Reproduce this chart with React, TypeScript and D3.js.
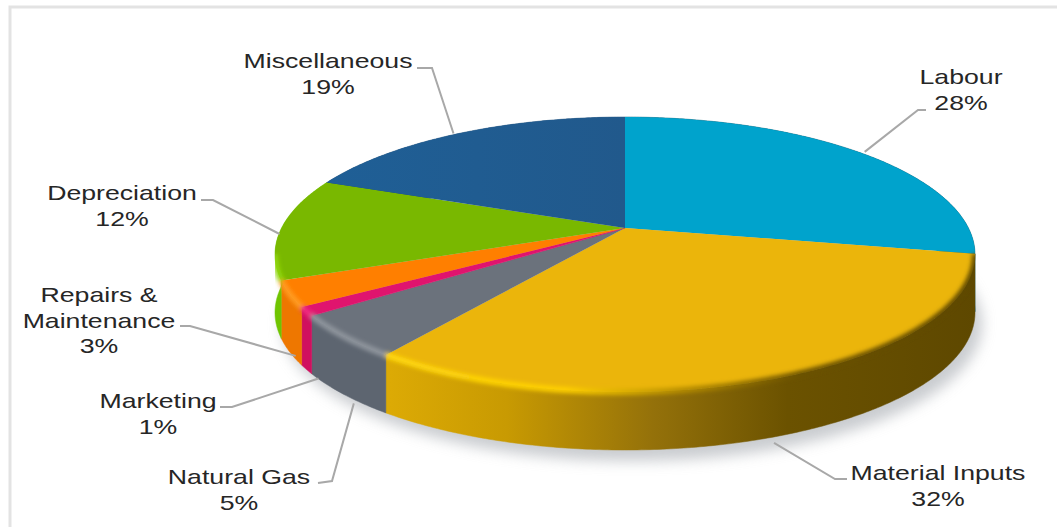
import React from "react";
import * as d3 from "d3";

// Cost shares, clockwise from twelve o'clock
const categories = ["Labour", "Material Inputs", "Natural Gas", "Marketing", "Repairs & Maintenance", "Depreciation", "Miscellaneous"];
const shares = [28, 32, 5, 1, 3, 12, 19];
const labelLines = [["Labour", "28%"], ["Material Inputs", "32%"], ["Natural Gas", "5%"], ["Marketing", "1%"], ["Repairs &", "Maintenance", "3%"], ["Depreciation", "12%"], ["Miscellaneous", "19%"]];

const topColors = ["#00a3cc", "#ebb50b", "#6b727c", "#e0146e", "#ff7f00", "#79b800", "#1f5a90"];
const sideColors = ["#00617a", "url(#goldSide)", "#5d6570", "#d0105f", "#ee7700", "#6fc400", "#174a78"];
const bevelColors = ["#00617a", "url(#goldBevel)", "#8f959d", "#f02a80", "#ff9c22", "#92d810", "#174a78"];

// Label block centre, first baseline, leader elbow points and the nudge off the rim
const placements = [
  { cx: 961, y: 84, elbow: [[918, 110], [926, 110]], nudge: [4, -1], onSide: false },
  { cx: 938, y: 480, elbow: [[835, 479], [847, 479]], nudge: [-5, 7], onSide: true },
  { cx: 239, y: 484, elbow: [[332, 481], [318, 483]], nudge: [10, 9], onSide: true },
  { cx: 158, y: 408, elbow: [[232, 407], [220, 407]], nudge: [12, 9], onSide: true },
  { cx: 99, y: 302, elbow: [[190, 326], [180, 326]], nudge: [6, 4], onSide: true },
  { cx: 122, y: 200, elbow: [[213, 200], [201, 200]], nudge: [-2, 6], onSide: false },
  { cx: 328, y: 68, elbow: [[432, 68], [417, 68]], nudge: [-5, 0], onSide: false },
];

const cx = 625;
const cy = 228;
const halfWidth = 350;
const backRadius = 111;
const frontRadius = 164;
const depth = 58;
// The bevel follows only the part of the rim that borders a visible wall
const bevelStart = 1.76;
const bevelEnd = 4.52;

// Perspective projection of the unit disc on to the tilted pie
const k = (frontRadius - backRadius) / (frontRadius + backRadius);
const verticalScale = backRadius * (1 + k);
const horizontalScale = halfWidth * Math.sqrt(1 - k * k);
const project = (angle: number, radius = 1): [number, number] => {
  const u = radius * Math.sin(angle);
  const v = -radius * Math.cos(angle);
  const w = 1 - k * v;
  return [cx + (horizontalScale * u) / w, cy + (verticalScale * v) / w];
};

const rim = (a0: number, a1: number): [number, number][] => {
  const steps = Math.max(2, Math.ceil(Math.abs(a1 - a0) / 0.01));
  return d3.range(steps + 1).map((i) => project(a0 + ((a1 - a0) * i) / steps));
};

const line = d3.line<[number, number]>();
const slices = d3.pie<number>().sort(null)(shares);
const lowered = (p: [number, number]): [number, number] => [p[0], p[1] + depth];

const wholeRim = rim(0, Math.PI * 2);
const frontRim = rim(bevelStart, bevelEnd);
const wallOutline = [...frontRim, ...frontRim.slice().reverse().map(lowered)];

export default function App() {
  return (
    <svg width={1057} height={527} style={{ position: "absolute", left: 0, top: 0, background: "#fff" }} fontFamily="'Liberation Sans', Arial, sans-serif">
      <defs>
        <linearGradient id="goldSide" gradientUnits="userSpaceOnUse" x1={390} x2={975} y1={0} y2={0}>
          <stop offset="0" stopColor="#dcaa05" />
          <stop offset="0.2" stopColor="#c89a02" />
          <stop offset="0.45" stopColor="#94710a" />
          <stop offset="0.68" stopColor="#6b5200" />
          <stop offset="1" stopColor="#5e4800" />
        </linearGradient>
        <linearGradient id="goldBevel" gradientUnits="userSpaceOnUse" x1={390} x2={975} y1={0} y2={0}>
          <stop offset="0" stopColor="#ffd80c" />
          <stop offset="0.3" stopColor="#ffd000" />
          <stop offset="0.5" stopColor="#b58c04" />
          <stop offset="0.7" stopColor="#6b5200" />
          <stop offset="1" stopColor="#5e4800" />
        </linearGradient>
        <linearGradient id="navyFade" gradientUnits="userSpaceOnUse" x1={330} x2={625} y1={0} y2={0}>
          <stop offset="0" stopColor="#1f5f96" />
          <stop offset="1" stopColor="#21598c" />
        </linearGradient>
        <filter id="softShadow" x="-10%" y="-10%" width="120%" height="130%">
          <feGaussianBlur stdDeviation="7" />
        </filter>
        <filter id="softEdge" x="-5%" y="-5%" width="110%" height="110%">
          <feGaussianBlur stdDeviation="2.2" />
        </filter>
        <clipPath id="pieClip">
          <path d={line(wholeRim)! + "Z"} />
          <path d={line(wallOutline)! + "Z"} />
        </clipPath>
      </defs>

      {/* panel outline running off the bottom edge */}
      <path d="M10,527V7H1057" fill="none" stroke="#e3e3e3" strokeWidth={3} />

      {/* ground shadow */}
      <path d={line(wholeRim.map(lowered))! + "Z"} transform="translate(7,11)" fill="#a9adb3" opacity={0.62} filter="url(#softShadow)" />

      {/* rim walls */}
      {slices.map((s, i) => {
        const top = rim(s.startAngle, s.endAngle);
        const wall = [...top, ...top.slice().reverse().map(lowered)];
        return <path key={i} d={line(wall)! + "Z"} fill={sideColors[i]} stroke={sideColors[i]} strokeWidth={0.5} />;
      })}

      {/* top faces */}
      {slices.map((s, i) => {
        const face: [number, number][] = [[cx, cy], ...rim(s.startAngle, s.endAngle)];
        return <path key={i} d={line(face)! + "Z"} fill={i === 6 ? "url(#navyFade)" : topColors[i]} stroke={i === 3 ? topColors[i] : "none"} strokeWidth={0.6} />;
      })}

      {/* soft bevel where the top meets the wall, kept inside the pie's outline */}
      <g clipPath="url(#pieClip)">
        <g filter="url(#softEdge)">
          {slices.map((s, i) => {
            const a0 = Math.max(s.startAngle, bevelStart);
            const a1 = Math.min(s.endAngle, bevelEnd);
            if (a1 <= a0) return null;
            return <path key={i} d={line(rim(a0, a1))!} fill="none" stroke={bevelColors[i]} strokeWidth={6} />;
          })}
        </g>
      </g>

      {/* leader lines */}
      {slices.map((s, i) => {
        const place = placements[i];
        const mid = (s.startAngle + s.endAngle) / 2;
        const base = project(mid);
        const start: [number, number] = [
          base[0] + place.nudge[0],
          base[1] + (place.onSide ? depth : 0) + place.nudge[1],
        ];
        const pts = [start, ...(place.elbow as [number, number][])];
        return <path key={categories[i]} d={line(pts)!} fill="none" stroke="#a8a8a8" strokeWidth={2} />;
      })}

      {/* labels, widened to the chart's horizontal stretch */}
      {labelLines.map((rows, i) =>
        rows.map((row, j) => (
          <text
            key={row}
            transform={`translate(${placements[i].cx},${placements[i].y + j * 25.5}) scale(1.27,1)`}
            textAnchor="middle"
            fontSize={21}
            fill="#262626"
          >
            {row}
          </text>
        ))
      )}
    </svg>
  );
}
